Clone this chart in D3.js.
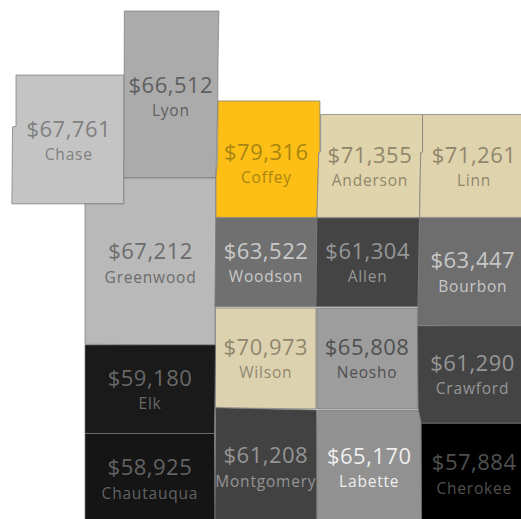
<!DOCTYPE html>
<html>
<head>
<meta charset="utf-8">
<script src="https://cdn.jsdelivr.net/npm/d3@7"></script>
<style>
    html, body { margin: 0; padding: 0; background: #fff; overflow: hidden; }
    svg { display: block; }
    text { font-family: "Open Sans", sans-serif; text-anchor: middle; }
</style>
</head>
<body>
<div id="chart"></div>
<script>
const counties = ["Chase", "Lyon", "Greenwood", "Coffey", "Anderson", "Linn", "Woodson", "Allen", "Bourbon",
    "Wilson", "Neosho", "Crawford", "Elk", "Chautauqua", "Montgomery", "Labette", "Cherokee"]

const incomes = [67761, 66512, 67212, 79316, 71355, 71261, 63522, 61304, 63447,
    70973, 65808, 61290, 59180, 58925, 61208, 65170, 57884]

// county outlines as [lon, lat]
const outlines = [
    [[-96.828, 38.638], [-96.359, 38.638], [-96.359, 38.171], [-96.846, 38.171], [-96.843, 38.450], [-96.828, 38.452]],
    [[-96.357, 38.870], [-95.946, 38.870], [-95.950, 38.692], [-95.951, 38.544], [-95.959, 38.265], [-96.359, 38.265]],
    [[-96.528, 38.171], [-96.359, 38.171], [-96.359, 38.265], [-95.959, 38.265], [-95.963, 37.660], [-96.528, 37.662]],
    [[-95.950, 38.544], [-95.507, 38.544], [-95.507, 38.359], [-95.512, 38.356], [-95.520, 38.122], [-95.959, 38.122], [-95.959, 38.265], [-95.952, 38.330]],
    [[-95.504, 38.495], [-95.061, 38.495], [-95.061, 38.359], [-95.069, 38.356], [-95.074, 38.122], [-95.520, 38.122], [-95.512, 38.356], [-95.504, 38.359]],
    [[-95.061, 38.495], [-94.607, 38.495], [-94.607, 38.122], [-95.074, 38.122], [-95.069, 38.356], [-95.061, 38.359]],
    [[-95.959, 38.120], [-95.520, 38.120], [-95.524, 37.798], [-95.963, 37.798]],
    [[-95.520, 38.120], [-95.074, 38.120], [-95.080, 37.798], [-95.524, 37.798]],
    [[-95.074, 38.120], [-94.607, 38.120], [-94.607, 37.729], [-95.083, 37.731]],
    [[-95.961, 37.794], [-95.524, 37.794], [-95.524, 37.428], [-95.961, 37.432]],
    [[-95.521, 37.794], [-95.083, 37.794], [-95.083, 37.428], [-95.521, 37.428]],
    [[-95.083, 37.729], [-94.607, 37.729], [-94.607, 37.376], [-95.067, 37.376], [-95.080, 37.424]],
    [[-96.528, 37.660], [-95.961, 37.660], [-95.965, 37.339], [-96.528, 37.339]],
    [[-96.528, 37.339], [-95.965, 37.339], [-95.963, 37.010], [-96.528, 37.010]],
    [[-95.961, 37.432], [-95.521, 37.424], [-95.520, 37.010], [-95.963, 37.010]],
    [[-95.517, 37.424], [-95.080, 37.424], [-95.067, 37.376], [-95.065, 37.010], [-95.520, 37.010]],
    [[-95.067, 37.376], [-94.607, 37.376], [-94.607, 37.010], [-95.065, 37.010]]
]

const width = 521
const height = 519

const xScale = d3.scaleLinear().domain([-95.95, -94.607]).range([218, 527])
const yScale = d3.scaleLinear().domain([38.87, 37]).range([11, 527])

const fillScale = d3.scaleLinear()
    .domain([57884, 67761, 71400, 79316])
    .range(["#000000", "#c4c4c4", "#e0d4ad", "#fdbf16"])

// labels flip from light to dark between Labette and Neosho
const labelScale = d3.scaleLinear()
    .domain([57884, 59180, 61300, 63500, 65170, 65171, 65808, 67212, 67761, 71000, 79316])
    .range(["#505050", "#686868", "#969696", "#c8c8c8", "#eeeeee", "#4a4a4a", "#505050", "#6c6c6c", "#808080", "#8f876e", "#a88510"])

const money = d3.format("$,")

const toPixels = ring => ring.map(p => [xScale(p[0]), yScale(p[1])])
const line = d3.line().curve(d3.curveLinearClosed)

// the label sits a bit off the centroid on these
const labelNudge = { Coffey: [-1.5, 4], Lyon: [0, 2], Greenwood: [-2, -2] }

const rows = counties.map((name, i) => {
    const ring = toPixels(outlines[i])
    const c = d3.polygonCentroid(ring)
    const nudge = labelNudge[name] || [0, 0]
    return { name: name, income: incomes[i], ring: ring, center: [c[0] + nudge[0], c[1] + nudge[1]] }
})

const svg = d3.select("#chart")
    .append("svg")
    .attr("width", width)
    .attr("height", height)

svg.selectAll("path.county")
    .data(rows)
    .enter()
    .append("path")
    .attr("class", "county")
    .attr("d", d => line(d.ring))
    .style("fill", d => fillScale(d.income))
    .style("stroke", "#777777")
    .style("stroke-opacity", 0.7)
    .style("stroke-width", 1)

svg.selectAll("text.income")
    .data(rows)
    .enter()
    .append("text")
    .attr("class", "income")
    .attr("x", d => d.center[0])
    .attr("y", d => d.center[1] - 3.5)
    .style("font-size", "22px")
    .style("letter-spacing", "0.5px")
    .style("fill", d => labelScale(d.income))
    .text(d => money(d.income))

svg.selectAll("text.name")
    .data(rows)
    .enter()
    .append("text")
    .attr("class", "name")
    .attr("x", d => d.center[0])
    .attr("y", d => d.center[1] + 20)
    .style("font-size", "15.5px")
    .style("letter-spacing", "0.8px")
    .style("font-weight", 500)
    .style("fill", d => labelScale(d.income))
    .text(d => d.name)
</script>
</body>
</html>
